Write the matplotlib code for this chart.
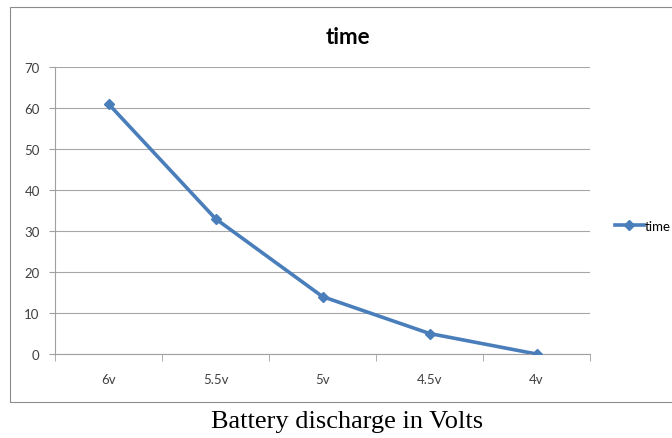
import matplotlib
matplotlib.use("Agg")
import matplotlib.pyplot as plt
from matplotlib.patches import Rectangle
from matplotlib.lines import Line2D

categories = ["6v", "5.5v", "5v", "4.5v", "4v"]
values = [61, 33, 14, 5, 0]
series_name = "time"
y_ticks = [0, 10, 20, 30, 40, 50, 60, 70]

fig = plt.figure(figsize=(6.72, 4.39), dpi=100)
W, H = 672, 439

# outer chart border
fig.patches.append(Rectangle((10 / W, 1 - 403 / H), 1.2, (403 - 8) / H,
                             transform=fig.transFigure, fill=False,
                             edgecolor="#8c8c8c", linewidth=0.8))

ax = fig.add_axes([55 / W, 1 - 355 / H, (590 - 55) / W, (355 - 68) / H])
x = list(range(len(categories)))
ax.plot(x, values, color="#4A7EBB", linewidth=2.6, marker="D", markersize=5.5,
        markerfacecolor="#4A7EBB", markeredgecolor="#4A7EBB", zorder=3)

ax.set_xlim(-0.5, len(categories) - 0.5)
ax.set_ylim(0, 70)
ax.set_yticks(y_ticks)
ax.set_yticklabels([str(v) for v in y_ticks], fontsize=9.5, color="#404040", family="Lato")
ax.set_xticks(x)
ax.set_xticklabels(categories, fontsize=9.5, color="#404040", family="Lato")
ax.tick_params(axis="x", length=0, pad=14)
ax.tick_params(axis="y", length=4, color="#a0a0a0", pad=7)
ax.set_xticks([i - 0.5 for i in range(len(categories) + 1)], minor=True)
ax.tick_params(axis="x", which="minor", length=5, color="#a0a0a0", direction="out")
ax.grid(axis="y", color="#a6a6a6", linewidth=0.8)
ax.set_axisbelow(True)
for s in ["top", "right"]:
    ax.spines[s].set_visible(False)
for s in ["left", "bottom"]:
    ax.spines[s].set_color("#a0a0a0")
    ax.spines[s].set_linewidth(0.8)

fig.text(348 / W, 1 - 37 / H, series_name, ha="center", va="center",
         fontsize=16, fontweight="bold", family="Lato")

# legend
handle = Line2D([], [], color="#4A7EBB", linewidth=2.6, marker="D", markersize=5.5)
fig.legend([handle], [series_name], loc="center left",
           bbox_to_anchor=(608 / W, 1 - 227 / H), frameon=False,
           prop={"family": "Lato", "size": 9.5}, handlelength=2.2,
           handletextpad=0.1, borderpad=0)

fig.text(347 / W, 1 - 422 / H, "Battery discharge in Volts", ha="center",
         va="center", fontsize=19, family="Liberation Serif")

fig.savefig("out.png", dpi=100)
